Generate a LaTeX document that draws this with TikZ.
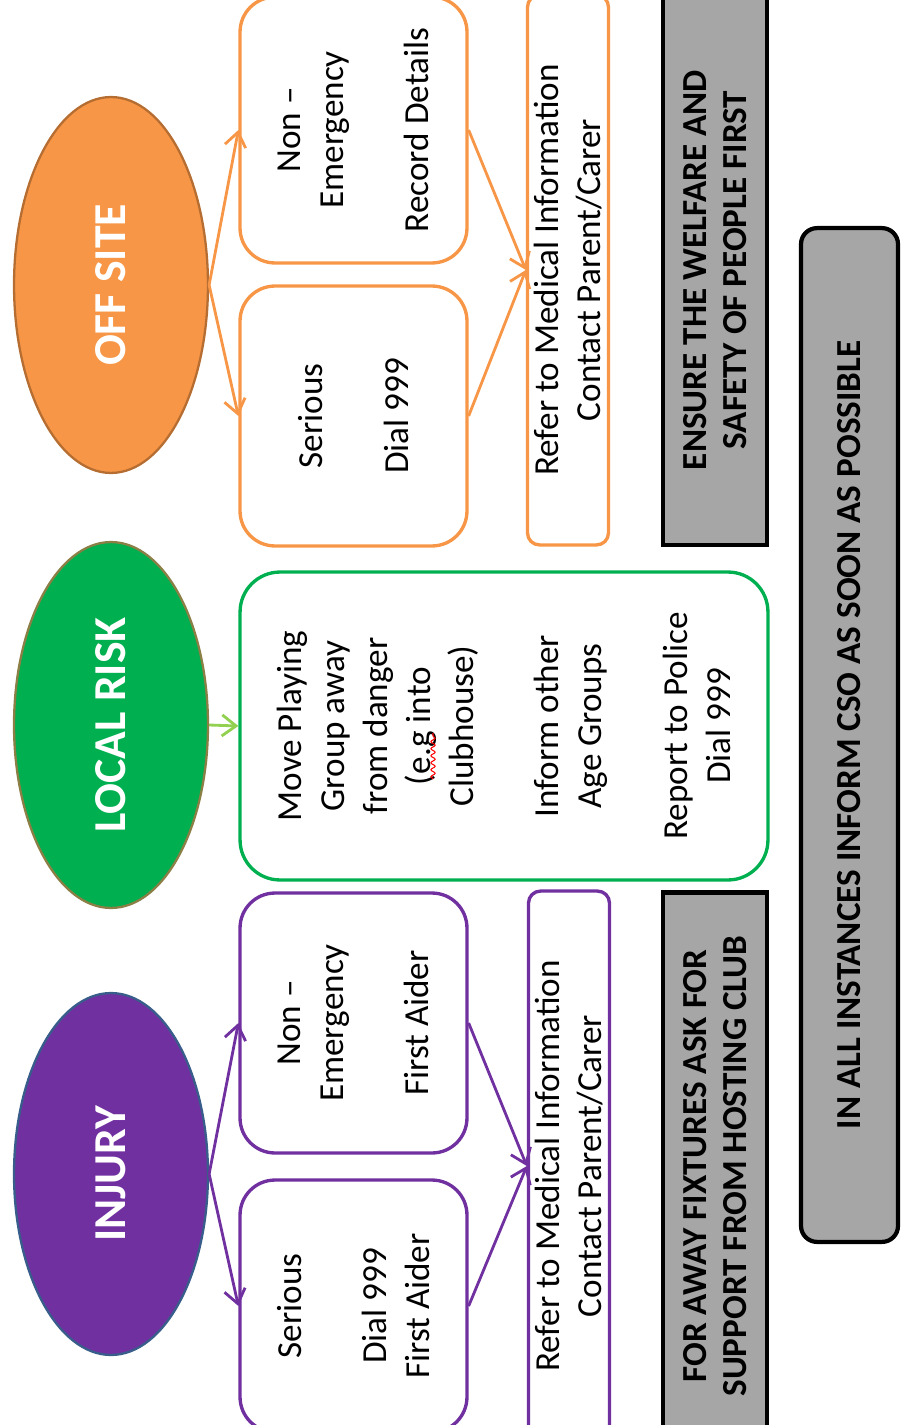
\documentclass[tikz,border=0pt]{standalone}
\usepackage{fontspec}
\setmainfont{Carlito}
\usepackage{tikz}
\usepackage{xcolor}
\usetikzlibrary{shapes.geometric, arrows.meta, decorations.pathmorphing}

\definecolor{offorange}{HTML}{F79646}
\definecolor{offedge}{HTML}{B66D31}
\definecolor{riskgreen}{HTML}{00B050}
\definecolor{riskedge}{HTML}{8C7F45}
\definecolor{arrowgreen}{HTML}{92D050}
\definecolor{injpurple}{HTML}{7030A0}
\definecolor{injedge}{HTML}{385D8A}
\definecolor{notegray}{HTML}{A6A6A6}

\newcommand{\hdfont}{\fontsize{26}{30}\selectfont\bfseries}
\newcommand{\actfont}{\fontsize{20}{24.4}\selectfont}
\newcommand{\notefont}{\fontsize{20}{23.2}\selectfont\bfseries}

\begin{document}
\begin{tikzpicture}[x=0.02cm, y=-0.02cm, >={Straight Barb[length=8pt,width=12pt]},
    head/.style={ellipse, rotate=90, minimum height=3.88cm, line width=1.3pt,
        text=white, font=\hdfont, inner sep=0pt},
    actbox/.style={draw, rotate=90, align=center, font=\actfont, line width=1.9pt,
        rounded corners=0.7cm, minimum height=4.54cm, inner sep=0pt},
    referbox/.style={draw, rotate=90, align=center, font=\actfont, line width=1.9pt,
        rounded corners=0.24cm, minimum height=1.62cm, minimum width=11cm, inner sep=0pt},
    notebox/.style={draw=black, fill=notegray, rotate=90, align=center, font=\notefont,
        line width=2.4pt, minimum height=2.08cm, inner sep=0pt}]
    \useasboundingbox (0,0) rectangle (903,1425);
    \clip (0,0) rectangle (903,1425);

    % off site
    \node[head, fill=offorange, draw=offedge, minimum width=7.52cm] (off) at (111,285) {OFF SITE};
    \node[actbox, draw=offorange, minimum width=5.32cm] (offne) at (353.5,130) {Non –\\Emergency\\[24.4pt]Record Details};
    \node[actbox, draw=offorange, minimum width=5.2cm] (offs) at (353.5,416) {Serious\\[24.4pt]Dial 999};
    \node[referbox, draw=offorange] (offref) at (568,270) {Refer to Medical Information\\Contact Parent/Carer};
    \node[notebox, minimum width=11cm] (ensure) at (715,270) {ENSURE THE WELFARE AND\\SAFETY OF PEOPLE FIRST};

    \draw[offorange, line width=1.6pt]
    (off.south) edge[->] (offne.north)
    (off.south) edge[->] (offs.north)
    (offne.south) edge[->] (offref.north)
    (offs.south) edge[->] (offref.north);

    % local risk
    \node[head, fill=riskgreen, draw=riskedge, minimum width=7.32cm] (loc) at (111,725) {LOCAL RISK};
    \node[actbox, draw=riskgreen, rounded corners=0.8cm, minimum width=6.16cm, minimum height=10.56cm] (locact) at (504,726)
        {Move Playing\\Group away\\from danger\\(e.g into\\Clubhouse)\\[24.4pt]Inform other\\Age Groups\\[24.4pt]Report to Police\\Dial 999};
    \draw[red, line width=0.6pt, decorate, decoration={snake, amplitude=1.2pt, segment length=4pt}] (433,779) -- (433,733);

    \draw[arrowgreen, line width=1.6pt]
    (loc.south) edge[->] (locact.north);

    % injury
    \node[head, fill=injpurple, draw=injedge, minimum width=7.24cm] (inj) at (111,1174) {INJURY};
    \node[actbox, draw=injpurple, minimum width=5.2cm] (injne) at (353.5,1023) {Non –\\Emergency\\[24.4pt]First Aider};
    \node[actbox, draw=injpurple, minimum width=5.04cm] (injs) at (353.5,1306) {Serious\\[24.4pt]Dial 999\\First Aider};
    \node[referbox, draw=injpurple] (injref) at (569,1166) {Refer to Medical Information\\Contact Parent/Carer};
    \node[notebox, minimum width=10.94cm] (away) at (715,1166) {FOR AWAY FIXTURES ASK FOR\\SUPPORT FROM HOSTING CLUB};

    \draw[injpurple, line width=1.6pt]
    (inj.south) edge[->] (injne.north)
    (inj.south) edge[->] (injs.north)
    (injne.south) edge[->] (injref.north)
    (injs.south) edge[->] (injref.north);

    % all instances
    \node[notebox, rounded corners=0.32cm, minimum width=20.28cm, minimum height=1.94cm] (cso) at (849.5,735)
        {IN ALL INSTANCES INFORM CSO AS SOON AS POSSIBLE};
\end{tikzpicture}
\end{document}
